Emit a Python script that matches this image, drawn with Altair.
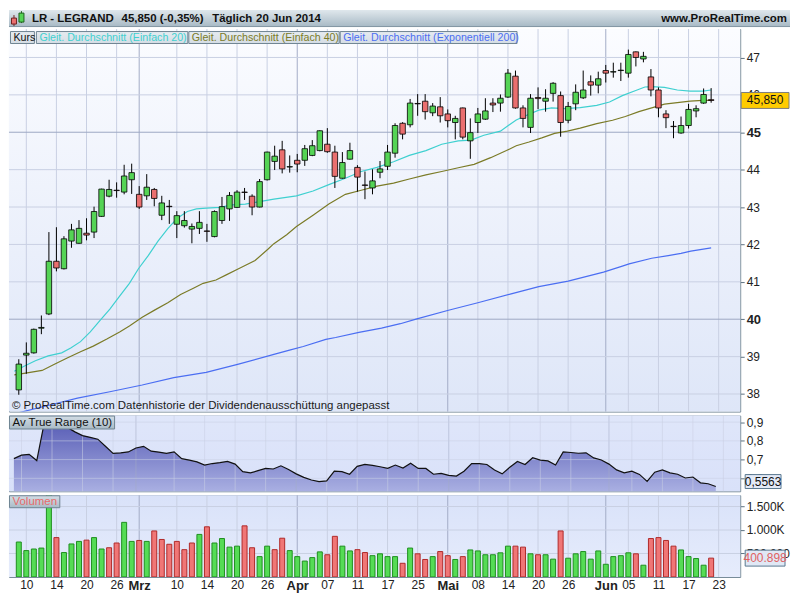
import altair as alt
import pandas as pd

# ---------------- values ----------------
# trading-day index 0 = 7 Feb 2014 ... 92 = 20 Jun 2014
opens = [38.11, 39.04, 39.10, 39.76, 40.14, 41.55, 41.35, 42.09, 42.03, 42.30,
         42.33, 42.75, 43.29, 43.45, 43.40, 43.73, 43.34, 43.30, 43.47, 42.78,
         43.02, 42.54, 42.50, 42.41, 42.43, 42.36, 42.21, 42.64, 42.95, 42.99,
         43.40, 43.29, 43.00, 43.73, 44.22, 44.53, 44.07, 44.25, 44.25, 44.38,
         44.51, 44.68, 44.47, 43.77, 44.28, 44.06, 43.59, 43.51, 43.93, 44.09,
         44.44, 45.24, 45.20, 45.77, 45.83, 45.52, 45.68, 45.49, 45.26, 45.65,
         44.77, 45.26, 45.35, 45.78, 45.78, 45.94, 46.50, 45.65, 45.13, 45.93,
         45.83, 46.04, 45.98, 45.32, 45.76, 45.92, 46.35, 46.26, 46.65, 46.61,
         46.65, 46.58, 47.15, 46.96, 46.48, 46.13, 45.49, 45.16, 44.98, 45.18,
         45.57, 45.78, 45.87]
highs = [38.93, 39.38, 39.75, 40.10, 42.33, 42.46, 42.22, 42.55, 42.65, 42.70,
         43.01, 43.49, 43.73, 43.66, 44.13, 44.16, 43.56, 43.88, 43.51, 43.30,
         43.19, 42.89, 42.89, 42.56, 42.89, 42.55, 42.91, 43.27, 43.40, 43.45,
         43.51, 43.34, 43.75, 44.48, 44.64, 44.77, 44.38, 44.42, 44.66, 44.79,
         45.05, 45.11, 44.64, 44.47, 44.72, 44.12, 43.95, 44.01, 44.23, 44.66,
         45.24, 45.27, 45.89, 46.02, 46.02, 45.78, 45.94, 45.61, 45.44, 45.66,
         45.37, 45.65, 45.91, 45.91, 46.01, 46.69, 46.65, 45.72, 46.02, 46.20,
         46.15, 46.34, 46.09, 45.81, 46.28, 46.65, 46.52, 46.62, 46.80, 46.86,
         46.86, 47.21, 47.16, 47.15, 46.69, 46.20, 45.59, 45.30, 45.42, 45.76,
         45.72, 46.17, 46.18]
lows = [37.98, 38.54, 39.08, 39.60, 40.11, 41.28, 41.33, 41.91, 42.02, 42.11,
        42.17, 42.74, 43.26, 43.25, 43.34, 43.35, 42.95, 43.19, 43.02, 42.65,
        42.55, 42.17, 42.45, 42.03, 42.28, 42.07, 42.19, 42.55, 42.63, 42.98,
        43.19, 42.78, 42.99, 43.71, 43.99, 43.90, 43.92, 43.93, 44.10, 44.36,
        44.49, 44.45, 43.51, 43.76, 44.27, 43.41, 43.21, 43.34, 43.77, 43.99,
        44.32, 44.81, 45.13, 45.44, 45.34, 45.43, 45.26, 45.13, 44.81, 44.81,
        44.29, 44.98, 45.33, 45.54, 45.55, 45.92, 45.63, 45.13, 44.98, 45.62,
        45.55, 45.82, 44.88, 45.24, 45.59, 45.89, 45.98, 46.04, 46.33, 46.46,
        46.37, 46.46, 46.76, 46.87, 45.96, 45.40, 45.11, 44.84, 44.96, 45.10,
        45.40, 45.76, 45.79]
closes = [38.80, 39.09, 39.73, 39.78, 41.55, 41.37, 42.15, 42.39, 42.43, 42.25,
          42.88, 43.48, 43.47, 43.44, 43.83, 43.92, 43.00, 43.53, 43.23, 43.11,
          43.01, 42.77, 42.64, 42.48, 42.59, 42.35, 42.88, 43.01, 43.31, 43.40,
          43.39, 43.00, 43.68, 44.47, 44.36, 44.02, 44.08, 44.15, 44.56, 44.64,
          45.04, 44.48, 43.82, 44.19, 44.51, 43.80, 43.58, 43.70, 44.02, 44.47,
          45.18, 44.95, 45.78, 45.76, 45.55, 45.70, 45.44, 45.31, 45.37, 44.87,
          44.99, 45.49, 45.57, 45.73, 45.91, 46.58, 45.65, 45.37, 45.91, 45.90,
          45.91, 46.31, 45.26, 45.69, 46.07, 46.13, 46.26, 46.43, 46.58, 46.62,
          46.66, 47.08, 47.00, 47.03, 46.13, 45.65, 45.39, 45.15, 45.18, 45.61,
          45.63, 46.01, 45.85]
volumes_k = [744, 561, 595, 615, 1750, 838, 520, 703, 757, 784,
             838, 595, 622, 723, 1163, 757, 777, 757, 980, 798,
             696, 757, 581, 723, 906, 1068, 723, 818, 635, 656,
             1088, 622, 433, 656, 581, 825, 561, 433, 338, 412,
             534, 473, 865, 656, 554, 581, 520, 453, 493, 433,
             433, 291, 615, 493, 372, 433, 541, 453, 372, 433,
             575, 554, 473, 473, 514, 656, 656, 635, 493, 473,
             473, 379, 980, 399, 493, 541, 379, 554, 270, 433,
             453, 514, 493, 250, 818, 838, 777, 656, 575, 433,
             392, 250, 400.898]
vol_dir = ("GGGGGRGGGR" "GGRRGGRGRR" "RRRRGRGGGG" "RRGGRRGGGG" "GRRGGRRGGG"
           "GRGRRGRRGR" "GGGGGGRRGR" "GGRGGGGGGG" "GGRGRRRRGG" "GGR")
atr10 = [0.705, 0.724, 0.728, 0.695, 0.900, 0.905, 0.893, 0.872, 0.848, 0.828,
         0.819, 0.809, 0.771, 0.733, 0.736, 0.741, 0.762, 0.771, 0.745, 0.740,
         0.733, 0.741, 0.705, 0.697, 0.688, 0.671, 0.679, 0.684, 0.690, 0.676,
         0.636, 0.629, 0.641, 0.653, 0.650, 0.667, 0.647, 0.624, 0.605, 0.591,
         0.583, 0.586, 0.638, 0.636, 0.622, 0.664, 0.674, 0.669, 0.662, 0.653,
         0.671, 0.655, 0.681, 0.653, 0.653, 0.622, 0.626, 0.616, 0.612, 0.638,
         0.679, 0.679, 0.674, 0.645, 0.624, 0.659, 0.690, 0.674, 0.710, 0.697,
         0.693, 0.671, 0.741, 0.738, 0.734, 0.736, 0.709, 0.698, 0.676, 0.645,
         0.629, 0.638, 0.621, 0.584, 0.633, 0.645, 0.629, 0.622, 0.602, 0.607,
         0.576, 0.571, 0.5563]

sma20_idx = [-0.6, 0.9, 2.2, 3.9, 5.7, 6.9, 8.2, 9.5, 10.8, 12.1, 13.4, 14.7, 15.9, 17.2,
             18.5, 19.8, 21.1, 22.4, 23.6, 24.9, 26.7, 28.4, 30.1, 31.8, 33.9, 36.9, 39.1,
             41.2, 43.4, 45.5, 47.6, 49.8, 51.9, 54.1, 56.2, 58.4, 60.1, 61.8, 64.0, 66.1,
             67.8, 69.1, 70.8, 72.5, 74.6, 76.8, 78.5, 80.2, 81.9, 83.2, 84.1, 85.8, 87.5,
             89.2, 90.9, 92.0]
sma20_val = [38.61, 38.76, 38.89, 39.02, 39.10, 39.23, 39.40, 39.66, 39.97, 40.27, 40.62,
             40.96, 41.35, 41.70, 42.09, 42.42, 42.71, 42.88, 42.95, 42.97, 42.99, 43.06,
             43.08, 43.14, 43.21, 43.30, 43.43, 43.60, 43.77, 43.95, 44.06, 44.21, 44.38,
             44.51, 44.68, 44.77, 44.79, 44.92, 45.03, 45.33, 45.48, 45.59, 45.65, 45.63,
             45.66, 45.72, 45.81, 45.98, 46.11, 46.21, 46.22, 46.20, 46.13, 46.10, 46.10,
             46.13]
sma40_idx = [-0.6, 0.9, 3.1, 4.8, 6.5, 8.2, 9.9, 11.7, 13.4, 14.7, 16.4, 18.1, 19.8, 21.5,
             23.2, 24.5, 26.2, 27.5, 29.2, 31.4, 33.1, 33.9, 35.6, 36.9, 39.1, 41.2, 43.4,
             45.5, 47.6, 49.8, 51.9, 54.1, 56.2, 58.4, 60.5, 62.7, 64.8, 66.1, 67.8, 69.5,
             71.2, 72.9, 74.6, 76.8, 78.9, 80.6, 82.4, 84.1, 85.8, 87.5, 89.2, 90.9, 92.0]
sma40_val = [38.51, 38.56, 38.63, 38.80, 38.97, 39.13, 39.28, 39.47, 39.66, 39.82, 40.05,
             40.25, 40.44, 40.66, 40.83, 40.96, 41.05, 41.18, 41.35, 41.57, 41.87, 42.02,
             42.26, 42.48, 42.78, 43.08, 43.34, 43.45, 43.56, 43.64, 43.75, 43.86, 43.95,
             44.05, 44.14, 44.32, 44.51, 44.64, 44.74, 44.85, 44.97, 45.03, 45.11, 45.23,
             45.32, 45.42, 45.55, 45.65, 45.75, 45.79, 45.83, 45.85, 45.85]
ema200_idx = [-0.6, 4.4, 7.8, 12.1, 16.4, 20.6, 24.9, 29.2, 33.9, 36.1, 37.8, 40.8, 42.1,
              45.2, 48.2, 50.7, 52.9, 57.1, 61.0, 65.3, 69.1, 73.0, 77.7, 80.2, 81.1, 84.1,
              86.3, 88.0, 89.3, 92.0]
ema200_val = [37.47, 37.72, 37.89, 38.06, 38.24, 38.44, 38.58, 38.80, 39.06, 39.18, 39.27,
              39.46, 39.51, 39.65, 39.76, 39.88, 40.01, 40.24, 40.44, 40.67, 40.87, 41.02,
              41.26, 41.42, 41.48, 41.63, 41.70, 41.76, 41.82, 41.91]

x_tick_idx = [1, 5, 9, 13, 16, 21, 25, 29, 33, 37, 41, 45, 49, 53, 57, 61, 65, 69, 73, 78, 81, 85, 89, 93]
x_tick_lbl = ['10', '14', '20', '26', 'Mrz', '10', '14', '20', '26', 'Apr', '07', '11', '17',
              '25', 'Mai', '08', '14', '20', '26', 'Jun', '05', '11', '17', '23']
month_idx = [16, 37, 57, 78]
price_ticks = [38, 39, 40, 41, 42, 43, 44, 45, 46, 47]
price_major = [40, 45]
atr_ticks = [0.6, 0.7, 0.8, 0.9]
vol_ticks = [500000, 1000000, 1500000]
vol_tick_lbl = ['500.000', '1.000K', '1.500K']

ticker = 'LR - LEGRAND'
last_close = 45.85
change_pct = -0.35
period = 'Täglich'
last_date = '20 Jun 2014'
last_atr = 0.5563
last_vol = 400898
legend_names = ['Kurs', 'Gleit. Durchschnitt (Einfach 20)', 'Gleit. Durchschnitt (Einfach 40)',
                'Gleit. Durchschnitt (Exponentiell 200)']

# ---------------- layout / style ----------------
FONT = 'Liberation Sans'
W = 734
H_HEAD, H_PRICE, H_ATR, H_VOL = 17, 384, 76, 82
TOTAL_W = 784
X_DOMAIN = [-0.64, 95.2]
P_DOMAIN = [37.53, 47.76]
A_DOMAIN = [0.531, 0.935]
V_DOMAIN = [0, 1740000]
GREEN, RED = '#55d455', '#ea6f6f'
VGREEN, VRED = '#55dc55', '#f07676'
VGREEN_S, VRED_S = '#1f8f1f', '#b02a2a'
FRAME = '#6f8593'
C_SMA20, C_SMA40, C_EMA = '#3fd0d0', '#7b7b27', '#4b6ef2'

xs = alt.Scale(domain=X_DOMAIN, nice=False, zero=False)
ps = alt.Scale(domain=P_DOMAIN, nice=False, zero=False)
ats = alt.Scale(domain=A_DOMAIN, nice=False, zero=False)
vs = alt.Scale(domain=V_DOMAIN, nice=False)

n = min(len(opens), len(highs), len(lows), len(closes), len(volumes_k), len(vol_dir), len(atr10))
df = pd.DataFrame({
    'idx': list(range(n)),
    'open': opens[:n], 'high': highs[:n], 'low': lows[:n], 'close': closes[:n],
    'vol': [v * 1000 for v in volumes_k[:n]],
    'atr': atr10[:n],
    'vdir': list(vol_dir[:n]),
})
df['body'] = [GREEN if c >= o else RED for o, c in zip(df['open'], df['close'])]
df['vfill'] = [VGREEN if d == 'G' else VRED for d in df['vdir']]
df['vstroke'] = [VGREEN_S if d == 'G' else VRED_S for d in df['vdir']]

ma_rows = []
for name, ix, vals in [('sma20', sma20_idx, sma20_val), ('sma40', sma40_idx, sma40_val),
                       ('ema200', ema200_idx, ema200_val)]:
    for i, v in zip(ix, vals):
        ma_rows.append({'s': name, 'idx': i, 'v': v})
ma = pd.DataFrame(ma_rows)

one = pd.DataFrame({'k': [0]})


def grad(c0, c1):
    return alt.LinearGradient(gradient='linear',
                              stops=[alt.GradientStop(color=c0, offset=0),
                                     alt.GradientStop(color=c1, offset=1)],
                              x1=0, x2=0, y1=0, y2=1)


def panel_bg(h, c0, c1):
    return alt.Chart(one).mark_rect(color=grad(c0, c1)).encode(
        x=alt.value(0), x2=alt.value(W), y=alt.value(0), y2=alt.value(h))


vgrid_df = pd.DataFrame({'idx': x_tick_idx,
                         'gc': ['#a4adc7' if i in month_idx else '#c9d0e3' for i in x_tick_idx]})


def vgrid(xaxis, opacity=1.0):
    return alt.Chart(vgrid_df).mark_rule(strokeWidth=1, opacity=opacity).encode(
        x=alt.X('idx:Q', scale=xs, axis=xaxis), color=alt.Color('gc:N', scale=None))


def hgrid(ticks, scale, yaxis, majors=(), opacity=1.0):
    d = pd.DataFrame({'t': ticks, 'gc': ['#9ea8c3' if t in majors else '#c9d0e3' for t in ticks]})
    return alt.Chart(d).mark_rule(strokeWidth=1, opacity=opacity).encode(
        y=alt.Y('t:Q', scale=scale, axis=yaxis), color=alt.Color('gc:N', scale=None))


def value_box(text, value, scale, yaxis, w, h, fill, stroke, tcolor, xoff=25, yoff=0):
    d = pd.DataFrame({'v': [value], 't': [text]})
    shape = f"M-1,{-h / w:.4f}H1V{h / w:.4f}H-1Z"
    box = alt.Chart(d).mark_point(shape=shape, size=w * w, filled=True, fill=fill, stroke=stroke,
                                  strokeWidth=1, opacity=1, yOffset=yoff).encode(
        x=alt.value(W + xoff), y=alt.Y('v:Q', scale=scale, axis=yaxis))
    txt = alt.Chart(d).mark_text(font=FONT, fontSize=12, color=tcolor, align='center',
                                 baseline='middle', dy=yoff).encode(
        x=alt.value(W + xoff), y=alt.Y('v:Q', scale=scale, axis=yaxis), text='t:N')
    return [box, txt]


def label_box(text, x1, y1, x2, y2, tcolor, fill0='#d3dde5', fill1='#a9bbc7', size=12, tx=None):
    box = alt.Chart(one).mark_rect(color=grad(fill0, fill1), stroke=FRAME, strokeWidth=1).encode(
        x=alt.value(x1), x2=alt.value(x2), y=alt.value(y1), y2=alt.value(y2))
    txt = alt.Chart(one).mark_text(font=FONT, fontSize=size, color=tcolor, align='left',
                                   baseline='middle').encode(
        x=alt.value(tx if tx is not None else x1 + 3), y=alt.value((y1 + y2) / 2 + 0.5),
        text=alt.value(text))
    return [box, txt]


def dec_comma(v, nd):
    return f"{v:.{nd}f}".replace('.', ',')


def thousands_dot(v):
    return f"{v:,.0f}".replace(',', '.')


def right_axis(values, size=12, **kw):
    return alt.Axis(orient='right', values=values, grid=False, domain=False, ticks=True, tickSize=4,
                    tickColor='#5d7282', labelPadding=2, labelColor='#222222', labelFont=FONT,
                    labelFontSize=size, labelOverlap=False, labelFlush=False, title=None, **kw)


# ---------------- header ----------------
hdr_layers = [
    alt.Chart(one).mark_rect(color=grad('#dfe7ec', '#a6b8c4')).encode(
        x=alt.value(0), x2=alt.value(TOTAL_W), y=alt.value(0), y2=alt.value(H_HEAD)),
    alt.Chart(one).mark_rule(color='#8497a4').encode(
        x=alt.value(0), x2=alt.value(TOTAL_W), y=alt.value(H_HEAD - 0.5)),
    alt.Chart(one).mark_rule(color='#702020').encode(x=alt.value(5), y=alt.value(5), y2=alt.value(16)),
    alt.Chart(one).mark_rect(color=RED, stroke='#702020', strokeWidth=1).encode(
        x=alt.value(2.5), x2=alt.value(7.5), y=alt.value(8), y2=alt.value(14)),
    alt.Chart(one).mark_rule(color='#1d601d').encode(x=alt.value(12.5), y=alt.value(1), y2=alt.value(13)),
    alt.Chart(one).mark_rect(color=GREEN, stroke='#1d601d', strokeWidth=1).encode(
        x=alt.value(10), x2=alt.value(15), y=alt.value(3), y2=alt.value(12)),
]
for txt, xpos in [(ticker, 23), (f"{dec_comma(last_close, 3)} ({dec_comma(change_pct, 2)}%)", 113),
                  (period, 204), (last_date, 248)]:
    hdr_layers.append(alt.Chart(one).mark_text(font=FONT, fontSize=11.5, fontWeight='bold',
                                               color='#111', align='left', baseline='middle').encode(
        x=alt.value(xpos), y=alt.value(9), text=alt.value(txt)))
hdr_layers.append(alt.Chart(one).mark_text(font=FONT, fontSize=11.5, fontWeight='bold', color='#111',
                                           align='right', baseline='middle').encode(
    x=alt.value(TOTAL_W - 3), y=alt.value(9), text=alt.value('www.ProRealTime.com')))
header = alt.layer(*hdr_layers).properties(width=TOTAL_W, height=H_HEAD,
                                           view=alt.ViewBackground(stroke='transparent'))

# ---------------- price panel ----------------
major_test = "datum.value % 5 === 0"
price_axis = right_axis(price_ticks,
                        size={"condition": {"test": major_test, "value": 13}, "value": 12},
                        format='d',
                        labelFontWeight={"condition": {"test": major_test, "value": "bold"},
                                         "value": "normal"})

wicks = alt.Chart(df).mark_rule(color='black', strokeWidth=1).encode(
    x=alt.X('idx:Q', scale=xs, axis=None),
    y=alt.Y('low:Q', scale=ps, axis=price_axis), y2='high:Q')
bodies = alt.Chart(df).mark_bar(size=5.5, stroke='black', strokeWidth=0.8).encode(
    x=alt.X('idx:Q', scale=xs, axis=None),
    y=alt.Y('open:Q', scale=ps, axis=price_axis), y2='close:Q',
    color=alt.Color('body:N', scale=None))
ma_lines = alt.Chart(ma).mark_line(strokeWidth=1.2, clip=True).encode(
    x=alt.X('idx:Q', scale=xs, axis=None),
    y=alt.Y('v:Q', scale=ps, axis=price_axis),
    color=alt.Color('s:N', scale=alt.Scale(domain=['sma20', 'sma40', 'ema200'],
                                           range=[C_SMA20, C_SMA40, C_EMA]), legend=None),
    detail='s:N')

price_layers = [panel_bg(H_PRICE, '#fbfcff', '#dee6f8'), vgrid(None),
                hgrid(price_ticks, ps, price_axis, price_major), ma_lines, wicks, bodies]
legend_boxes = [(legend_names[0], 1.5, 25.5, '#111111'),
                (legend_names[1], 27.5, 179.5, C_SMA20),
                (legend_names[2], 180.5, 331.5, C_SMA40),
                (legend_names[3], 332.5, 510, C_EMA)]
for name, bx1, bx2, col in legend_boxes:
    price_layers += label_box(name, bx1, 2.5, bx2, 14.5, col, fill0='#e6ebf0', fill1='#d5dde5', size=10.7)
price_layers.append(alt.Chart(one).mark_text(font=FONT, fontSize=11.5, color='#1a1a1a', align='left',
                                             baseline='middle').encode(
    x=alt.value(3), y=alt.value(H_PRICE - 6),
    text=alt.value('© ProRealTime.com  Datenhistorie der Dividendenausschüttung angepasst')))
price_layers += value_box(dec_comma(last_close, 3), last_close, ps, price_axis, 48, 16,
                          '#ffcc00', '#7d7d7d', '#111')
price = alt.layer(*price_layers).properties(width=W, height=H_PRICE)

# ---------------- ATR panel ----------------
atr_axis = right_axis(atr_ticks, labelExpr="replace(format(datum.value, '.1f'), '.', ',')")
atr_area = alt.Chart(df).mark_area(color=grad('#575cb5', '#a9afe2')).encode(
    x=alt.X('idx:Q', scale=xs, axis=None),
    y=alt.Y('atr:Q', scale=ats, axis=atr_axis), y2=alt.datum(A_DOMAIN[0]))
atr_line = alt.Chart(df).mark_line(color='#111111', strokeWidth=1.2).encode(
    x=alt.X('idx:Q', scale=xs, axis=None),
    y=alt.Y('atr:Q', scale=ats, axis=atr_axis))
atr_layers = [panel_bg(H_ATR, '#dfe6fa', '#d9e1f9'), atr_area,
              vgrid(None, 0.55), hgrid(atr_ticks, ats, atr_axis, (), 0.55), atr_line]
atr_layers += label_box('Av True Range (10)', 0.5, 0.5, 106, 13.5, '#111111', size=11.5)
atr_layers += value_box(dec_comma(last_atr, 4), last_atr, ats, atr_axis, 36, 14,
                        '#e3eaf7', '#5a7890', '#111', xoff=23, yoff=-5)
atr = alt.layer(*atr_layers).properties(width=W, height=H_ATR)

# ---------------- volume panel ----------------
x_label_expr = ("[" + ",".join(f"'{s}'" for s in x_tick_lbl) + "][indexof(["
                + ",".join(str(i) for i in x_tick_idx) + "], datum.value)]")
month_test = "indexof([" + ",".join(str(i) for i in month_idx) + "], datum.value) >= 0"
x_axis = alt.Axis(orient='bottom', values=x_tick_idx, labelExpr=x_label_expr, grid=False,
                  domain=False, ticks=False, labelPadding=3, labelColor='#222222', labelFont=FONT,
                  labelFontSize={"condition": {"test": month_test, "value": 13}, "value": 12},
                  labelFontWeight={"condition": {"test": month_test, "value": "bold"}, "value": "normal"},
                  labelOverlap=False, labelFlush=False, title=None)
vol_label_expr = ("[" + ",".join(f"'{s}'" for s in vol_tick_lbl) + "][indexof(["
                  + ",".join(str(v) for v in vol_ticks) + "], datum.value)]")
vol_axis = right_axis(vol_ticks, labelExpr=vol_label_expr)
vol_bars = alt.Chart(df).mark_bar(size=5, strokeWidth=1, clip=True).encode(
    x=alt.X('idx:Q', scale=xs, axis=x_axis),
    y=alt.Y('vol:Q', scale=vs, axis=vol_axis),
    color=alt.Color('vfill:N', scale=None),
    stroke=alt.Stroke('vstroke:N', scale=None))
vol_layers = [panel_bg(H_VOL, '#d9e2f9', '#e6ecfc'), vgrid(x_axis), hgrid(vol_ticks, vs, vol_axis),
              vol_bars]
vol_layers += label_box('Volumen', 0.5, 0.5, 51, 12.5, '#e86a6a', size=11.5)
vol_layers += value_box(thousands_dot(last_vol), last_vol, vs, vol_axis, 40, 16,
                        '#e0e8f5', '#5a7890', '#e06262', xoff=25)
vol = alt.layer(*vol_layers).properties(width=W, height=H_VOL)

panels = alt.vconcat(price, atr, vol, spacing=2)
chart = alt.vconcat(header, panels, spacing=0).properties(padding=0).configure_view(
    stroke=FRAME, strokeWidth=1).configure_text(font=FONT)

chart.save("out.html", embed_options={"renderer": "svg", "actions": False})
